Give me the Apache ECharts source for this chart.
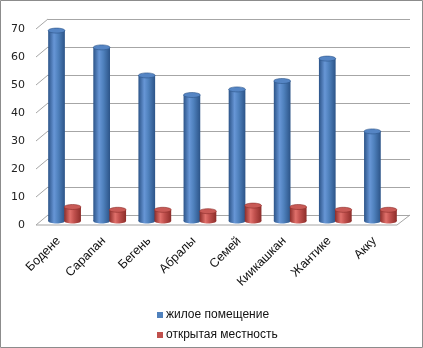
<!DOCTYPE html>
<html>
<head>
<meta charset="utf-8">
<script src="https://cdn.jsdelivr.net/npm/echarts@6/dist/echarts.min.js"></script>
<style>
  html, body { margin: 0; padding: 0; background: #fff; }
  #chart { width: 423px; height: 348px; }
</style>
</head>
<body>
<div id="chart"></div>
<script>
const categories = ['Бодене', 'Сарапан', 'Бегень', 'Абралы', 'Семей', 'Киикашкан', 'Жантике', 'Акку'];
const housingValues = [68, 62, 52, 45, 47, 50, 58, 32];
const openValues = [5, 4, 4, 3.5, 5.5, 5, 4, 4];
const seriesNames = ['жилое помещение', 'открытая местность'];
const tickValues = [0, 10, 20, 30, 40, 50, 60, 70];

const FONT = 'DejaVu Sans';
const LABEL_FONT = 'Liberation Sans';
const LINE = '#a6a6a6';

// 3d look: front plane, back wall, bars in between
function cylinder(offset, c) {
  return function (params, api) {
    const cat = api.value(0);
    const v = api.value(1);
    const top = api.coord([cat, v]);
    const base = api.coord([cat, 0]);
    const band = api.size([1, 0])[0];
    const w = band * 0.37;
    const cx = top[0] + offset * band;
    const ry = 2.5;
    const grad = new echarts.graphic.LinearGradient(0, 0, 1, 0, [
      { offset: 0, color: c.dark },
      { offset: 0.35, color: c.light },
      { offset: 0.6, color: c.mid },
      { offset: 1, color: c.dark }
    ]);
    return {
      type: 'group',
      children: [
        { type: 'ellipse', shape: { cx: cx, cy: base[1], rx: w / 2, ry: ry }, style: { fill: grad } },
        { type: 'rect', shape: { x: cx - w / 2, y: top[1], width: w, height: base[1] - top[1] }, style: { fill: grad } },
        { type: 'ellipse', shape: { cx: cx, cy: top[1], rx: w / 2, ry: ry }, style: { fill: c.top, stroke: c.dark, lineWidth: 0.6 } }
      ]
    };
  };
}

const blue = { dark: '#2c5488', light: '#6796d6', mid: '#4f81bd', top: '#5585c4' };
const red = { dark: '#8c2d2a', light: '#e0706b', mid: '#c0504d', top: '#c85a56' };

const chart = echarts.init(document.getElementById('chart'));

const option = {
  backgroundColor: '#fff',
  animation: false,
  graphic: [{
    type: 'rect',
    shape: { x: 0.5, y: 0.5, width: 422, height: 347 },
    style: { fill: 'none', stroke: '#8c8c8c', lineWidth: 1 },
    z: 100
  }],
  legend: {
    orient: 'vertical',
    left: 152,
    top: 304,
    itemWidth: 6,
    itemHeight: 6,
    itemGap: 8,
    icon: 'rect',
    data: seriesNames,
    textStyle: { fontFamily: LABEL_FONT, fontSize: 12, color: '#111', padding: [0, 0, 0, -2] }
  },
  grid: [
    { left: 36, top: 29, width: 361, height: 196 },   // front plane (labels)
    { left: 48, top: 19, width: 362, height: 196 },   // back wall (gridlines)
    { left: 42, top: 25, width: 361, height: 196 }    // bars
  ],
  xAxis: [
    {
      gridIndex: 0, type: 'category', data: categories,
      axisLine: { show: false }, axisTick: { show: false },
      axisLabel: { rotate: 45, margin: 14, fontFamily: LABEL_FONT, fontSize: 12.5, color: '#111', interval: 0 }
    },
    { gridIndex: 1, type: 'category', data: categories, show: false },
    { gridIndex: 2, type: 'category', data: categories, show: false }
  ],
  yAxis: [
    {
      gridIndex: 0, type: 'value', min: 0, max: 70, interval: 10,
      axisLine: { show: false }, axisTick: { show: false }, splitLine: { show: false },
      axisLabel: { margin: 11, fontFamily: FONT, fontSize: 11, color: '#222' }
    },
    {
      gridIndex: 1, type: 'value', min: 0, max: 70, interval: 10,
      axisLine: { show: false }, axisTick: { show: false }, axisLabel: { show: false },
      splitLine: { show: true, lineStyle: { color: LINE, width: 1 } }
    },
    { gridIndex: 2, type: 'value', min: 0, max: 70, interval: 10, show: false }
  ],
  series: [
    {
      type: 'custom',
      name: 'frame',
      xAxisIndex: 1, yAxisIndex: 1,
      silent: true,
      data: tickValues.map(v => [0, v]),
      renderItem: function (params, api) {
        const y = api.coord([0, api.value(1)])[1];
        const x0 = params.coordSys.x;
        const x1 = params.coordSys.x + params.coordSys.width;
        const st = { stroke: LINE, lineWidth: 1 };
        const kids = [{ type: 'line', shape: { x1: x0 - 12, y1: y + 10, x2: x0, y2: y }, style: st }];
        if (api.value(1) === 0) {
          kids.push({ type: 'line', shape: { x1: x0 - 12, y1: y + 10, x2: x1 - 13, y2: y + 10 }, style: st });
          kids.push({ type: 'line', shape: { x1: x1 - 13, y1: y + 10, x2: x1, y2: y }, style: st });
        }
        return { type: 'group', children: kids };
      },
      z: 1
    },
    {
      type: 'custom',
      name: seriesNames[0],
      xAxisIndex: 2, yAxisIndex: 2,
      itemStyle: { color: '#4f81bd' },
      data: housingValues.map((v, i) => [i, v]),
      renderItem: cylinder(-0.178, blue),
      z: 3
    },
    {
      type: 'custom',
      name: seriesNames[1],
      xAxisIndex: 2, yAxisIndex: 2,
      itemStyle: { color: '#c0504d' },
      data: openValues.map((v, i) => [i, v]),
      renderItem: cylinder(0.178, red),
      z: 3
    }
  ]
};

chart.setOption(option);
</script>
</body>
</html>
